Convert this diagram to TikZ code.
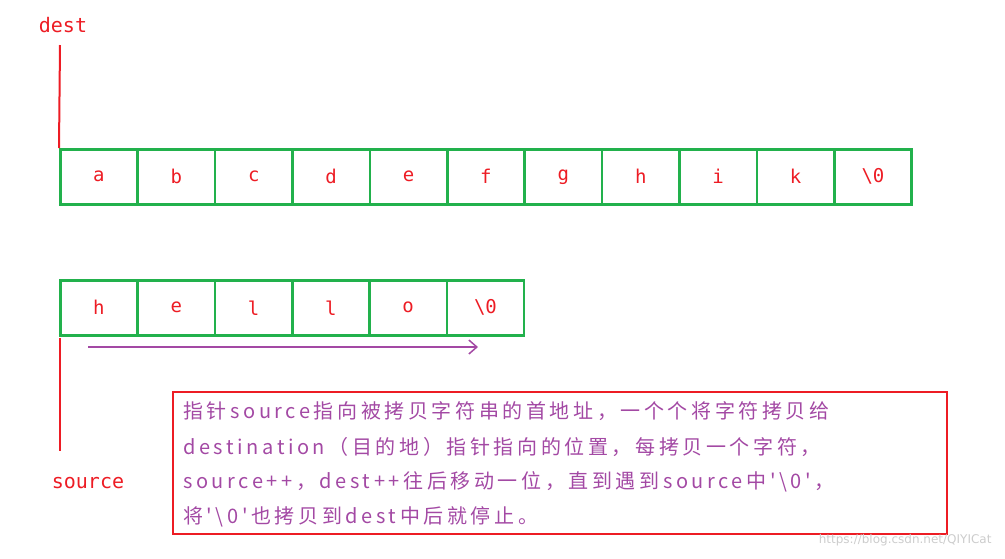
\documentclass[tikz,border=0pt]{standalone}
\usepackage{fontspec}
\usetikzlibrary{arrows.meta}
\setmainfont{DejaVu Sans}
\newfontfamily\cjk[LetterSpace=18]{Noto Sans CJK SC}
\newfontfamily\lbl{DejaVu Sans Mono}
\definecolor{cellgreen}{RGB}{34,177,76}
\definecolor{txtred}{RGB}{237,28,36}
\definecolor{purp}{RGB}{163,73,164}
\begin{document}
\begin{tikzpicture}[x=1pt,y=-1pt,
  cell/.style={draw=cellgreen,line width=2.5pt,minimum width=77.4pt,minimum height=55pt,inner sep=0pt,anchor=north west,text=txtred,font=\lbl\fontsize{19}{19}\selectfont},
  ptr/.style={draw=txtred,line width=2pt},
  lab/.style={text=txtred,font=\lbl\fontsize{20}{20}\selectfont},
  ln/.style={anchor=west,text=purp,font=\cjk\fontsize{20}{20}\selectfont,inner sep=0pt}]
\useasboundingbox (0,0) rectangle (1005,558);
\foreach \t [count=\i from 0] in {a,b,c,d,e,f,g,h,i,k,\textbackslash 0}
  \node[cell] (t\i) at (59+77.4*\i,148) {\t};
\foreach \t [count=\i from 0] in {h,e,l,l,o,\textbackslash 0}
  \node[cell] (b\i) at (59+77.3*\i,279) {\t};
\node[lab] (dest) at (63,25) {dest};
\coordinate (dtop) at (60,45);
\draw[ptr] (dtop) -- (t0.north west);
\node[lab] (src) at (88,483) {source};
\coordinate (stop) at (60,338);
\coordinate (sbot) at (60,451);
\draw[ptr] (stop) -- (sbot);
\coordinate (a1) at (88,347);
\coordinate (a2) at (478,347);
\draw[draw=purp,line width=1.5pt,-{Straight Barb[length=8pt,width=14pt]}] (a1) -- (a2);
\node[draw=txtred,line width=2pt,minimum width=774pt,minimum height=142pt,anchor=north west,inner sep=0pt] (box) at (172,391) {};
\node[ln] (l1) at (183,411) {指针source指向被拷贝字符串的首地址，一个个将字符拷贝给};
\node[ln] (l2) at (183,447) {destination（目的地）指针指向的位置，每拷贝一个字符，};
\node[ln] (l3) at (183,482) {source++，dest++往后移动一位，直到遇到source中'\textbackslash 0'，};
\node[ln] (l4) at (183,517) {将'\textbackslash 0'也拷贝到dest中后就停止。};
\node[anchor=east,text=black!20,font=\fontsize{12}{12}\selectfont] (wm) at (995,540) {https://blog.csdn.net/QIYICat};
\end{tikzpicture}
\end{document}
